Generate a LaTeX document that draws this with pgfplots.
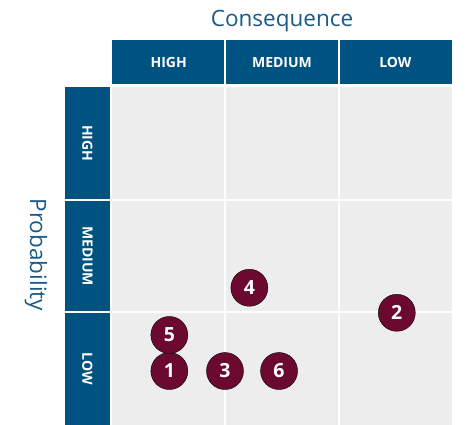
\documentclass[border=0pt]{standalone}
\usepackage{pgfplots}
\pgfplotsset{compat=1.18}
\usepackage{fontspec}
\setmainfont{Open Sans}
\definecolor{hdr}{RGB}{0,82,128}
\definecolor{ttl}{RGB}{25,90,135}
\definecolor{cellgray}{RGB}{237,237,237}
\definecolor{maroon}{RGB}{107,10,46}
\begin{document}
\begin{tikzpicture}[x=1pt,y=1pt]
\useasboundingbox (0,0) rectangle (468,425);
\begin{axis}[
  at={(112pt,0pt)}, anchor=south west,
  scale only axis, width=340pt, height=338pt,
  xmin=0, xmax=3, ymin=0, ymax=3,
  clip=false,
  axis line style={draw=none},
  xtick={1,2}, ytick={1,2},
  xticklabels={}, yticklabels={},
  tick style={draw=none},
  grid=major,
  major grid style={white, line width=2pt},
  axis background/.style={fill=cellgray},
]
% column headers
\fill[hdr] (axis cs:0,3.026) rectangle (axis cs:0.991,3.416);
\fill[hdr] (axis cs:1.009,3.026) rectangle (axis cs:1.991,3.416);
\fill[hdr] (axis cs:2.009,3.026) rectangle (axis cs:3,3.416);
\node[white, font=\fontsize{14}{16}\selectfont\bfseries] at (axis cs:0.5,3.221) {HIGH};
\node[white, font=\fontsize{14}{16}\selectfont\bfseries] at (axis cs:1.5,3.221) {MEDIUM};
\node[white, font=\fontsize{14}{16}\selectfont\bfseries] at (axis cs:2.5,3.221) {LOW};
% row headers
\fill[hdr] (axis cs:-0.415,2.009) rectangle (axis cs:-0.018,3);
\fill[hdr] (axis cs:-0.415,1.009) rectangle (axis cs:-0.018,1.991);
\fill[hdr] (axis cs:-0.415,0) rectangle (axis cs:-0.018,0.991);
\node[white, rotate=-90, font=\fontsize{14}{16}\selectfont\bfseries] at (axis cs:-0.2165,2.5) {HIGH};
\node[white, rotate=-90, font=\fontsize{14}{16}\selectfont\bfseries] at (axis cs:-0.2165,1.5) {MEDIUM};
\node[white, rotate=-90, font=\fontsize{14}{16}\selectfont\bfseries] at (axis cs:-0.2165,0.5) {LOW};
% titles
\node[ttl, font=\fontsize{22.5}{26}\selectfont] at (axis cs:1.5,3.585) {Consequence};
\node[ttl, rotate=-90, font=\fontsize{22.5}{26}\selectfont] at (axis cs:-0.67,1.51) {Probability};
\addplot[only marks, mark=*, mark size=18.5pt, mark options={draw=none, fill=maroon},
  point meta=explicit symbolic,
  nodes near coords,
  every node near coord/.style={anchor=center, white, font=\fontsize{19.5}{22}\selectfont\bfseries}]
  coordinates {
  (0.506,0.479) [1]
  (2.513,0.996) [2]
  (0.997,0.479) [3]
  (1.212,1.218) [4]
  (0.506,0.799) [5]
  (1.474,0.479) [6]
  };
\end{axis}
\end{tikzpicture}
\end{document}
